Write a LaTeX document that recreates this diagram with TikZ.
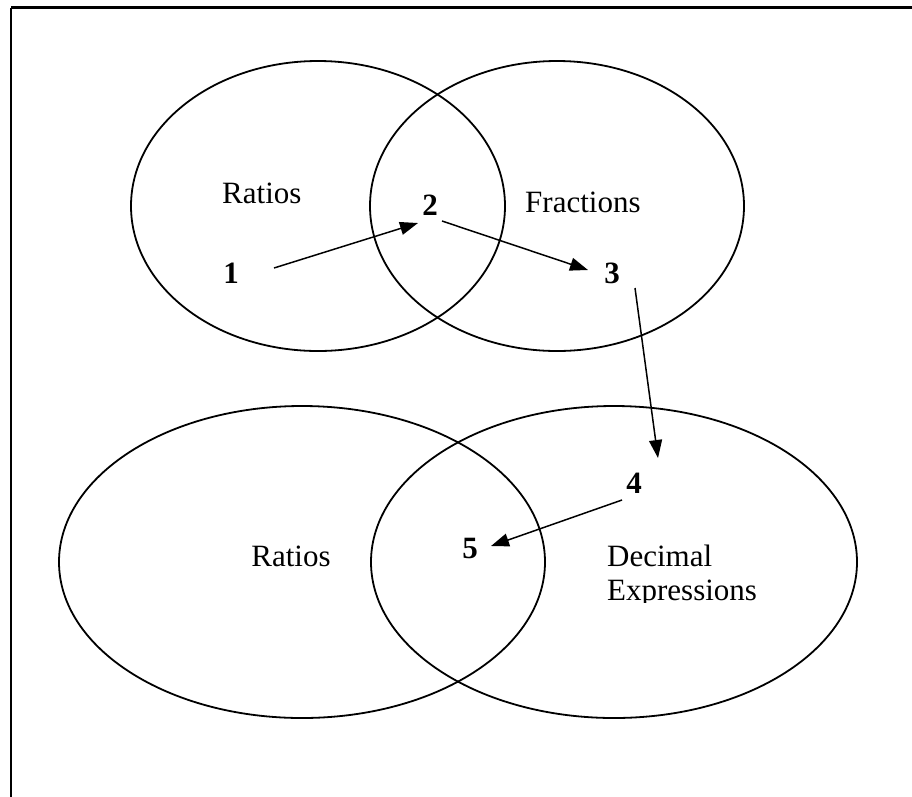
\documentclass[tikz,border=0pt]{standalone}
\usepackage{fontspec}
\setmainfont{Liberation Serif}
\usetikzlibrary{arrows.meta}
\tikzset{
  venn/.style={draw=black, line width=1.8pt},
  lbl/.style={inner sep=0pt, font=\fontsize{31}{37}\selectfont},
  num/.style={inner sep=0pt, font=\fontsize{31}{37}\selectfont\bfseries},
  arr/.style={line width=1.5pt, -{Triangle[length=18pt,width=13pt]}},
  frame/.style={line width=2.2pt}
}
\begin{document}
\begin{tikzpicture}[x=1pt,y=-1pt]
\useasboundingbox (0,0) rectangle (912,796);
\clip (0,0) rectangle (912,796);
% frame (only top and left edges fall inside the picture)
\draw[frame] (11,7.5) -- (920,7.5);
\draw[frame] (11,7.5) -- (11,810);
% circles
\draw[venn] (318,206) ellipse [x radius=187, y radius=145];
\draw[venn] (557,206) ellipse [x radius=187, y radius=145];
\draw[venn] (302,562) ellipse [x radius=243, y radius=156];
\draw[venn] (614,562) ellipse [x radius=243, y radius=156];
% labels
\node[lbl, anchor=base west] (ratA) at (222,203) {Ratios};
\node[lbl, anchor=base west] (frac) at (525,212) {Fractions};
\node[lbl, anchor=base] (ratB) at (291,566) {Ratios};
\node[lbl, anchor=base west] (dec) at (607,566) {Decimal};
\begin{scope}
\clip (600,560) rectangle (800,602);
\node[lbl, anchor=base west] (expr) at (607,600) {Expressions};
\end{scope}
% numbers
\node[num, anchor=base] (n1) at (231,283) {1};
\node[num, anchor=base] (n2) at (430,215) {2};
\node[num, anchor=base] (n3) at (612,283) {3};
\node[num, anchor=base] (n4) at (634,493) {4};
\node[num, anchor=base] (n5) at (470,558) {5};
% arrow end points
\coordinate (a1s) at (274,268);
\coordinate (a1e) at (418,223);
\coordinate (a2s) at (442,221);
\coordinate (a2e) at (588,270);
\coordinate (a3s) at (635,288);
\coordinate (a3e) at (658,458);
\coordinate (a4s) at (622,500);
\coordinate (a4e) at (491,546);
\draw[arr] (a1s) -- (a1e);
\draw[arr] (a2s) -- (a2e);
\draw[arr] (a3s) -- (a3e);
\draw[arr] (a4s) -- (a4e);
\end{tikzpicture}
\end{document}
